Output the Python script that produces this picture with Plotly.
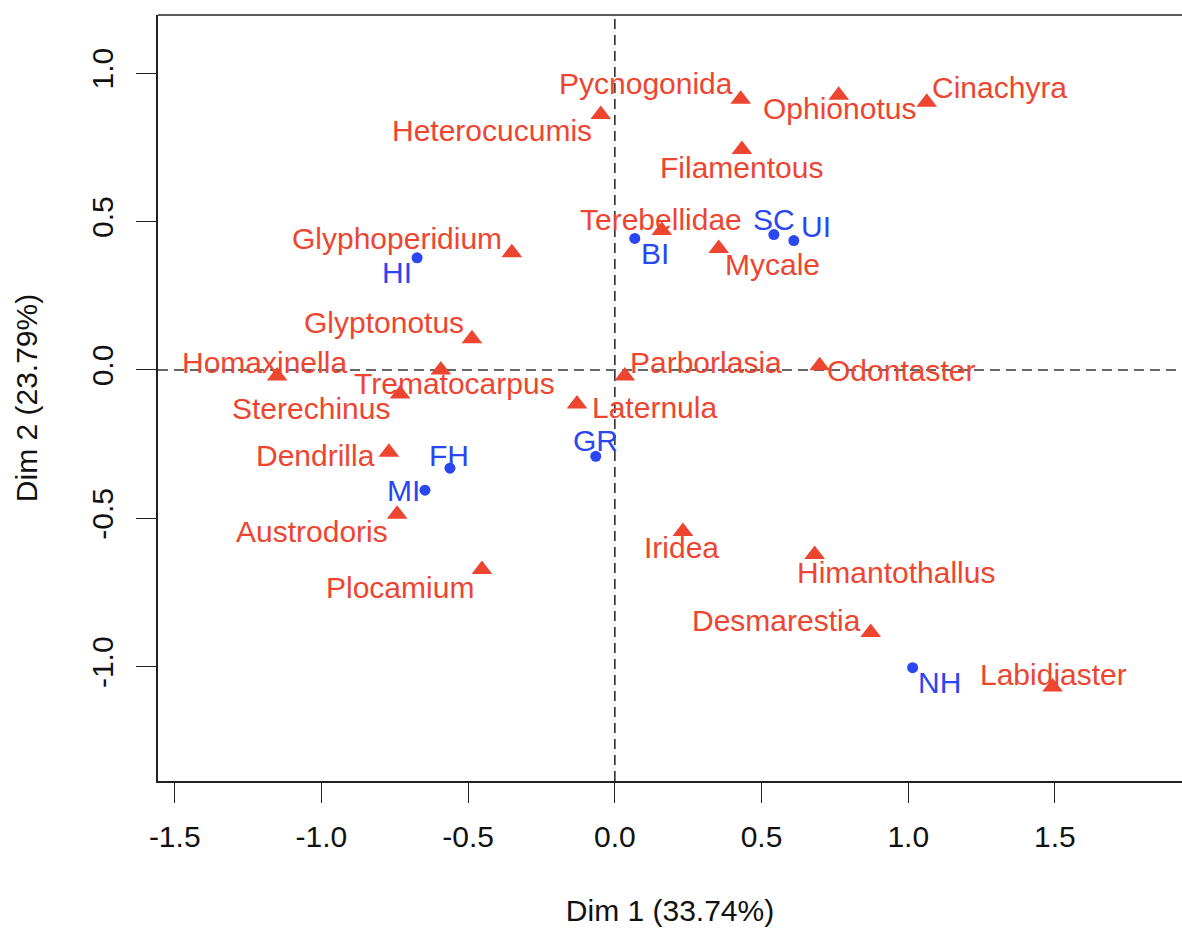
import plotly.graph_objects as go

# ---- data ----
species = ["Pycnogonida", "Ophionotus", "Cinachyra", "Heterocucumis", "Filamentous",
           "Terebellidae", "Mycale", "Glyphoperidium", "Glyptonotus", "Homaxinella",
           "Trematocarpus", "Sterechinus", "Parborlasia", "Odontaster", "Laternula",
           "Dendrilla", "Austrodoris", "Plocamium", "Iridea", "Himantothallus",
           "Desmarestia", "Labidiaster"]
species_dim1 = [0.429, 0.763, 1.063, -0.048, 0.433,
                0.160, 0.354, -0.351, -0.487, -1.151,
                -0.593, -0.732, 0.034, 0.698, -0.129,
                -0.770, -0.742, -0.453, 0.232, 0.681,
                0.872, 1.492]
species_dim2 = [0.912, 0.926, 0.902, 0.861, 0.743,
                0.470, 0.409, 0.395, 0.105, -0.020,
                0.000, -0.081, -0.020, 0.014, -0.115,
                -0.277, -0.486, -0.672, -0.544, -0.622,
                -0.885, -1.068]

sites = ["HI", "BI", "SC", "UI", "FH", "MI", "GR", "NH"]
sites_dim1 = [-0.674, 0.068, 0.542, 0.610, -0.562, -0.647, -0.065, 1.015]
sites_dim2 = [0.378, 0.443, 0.456, 0.436, -0.331, -0.405, -0.291, -1.003]

x_ticks = [-1.5, -1.0, -0.5, 0.0, 0.5, 1.0, 1.5]
y_ticks = [-1.0, -0.5, 0.0, 0.5, 1.0]
x_title = "Dim 1 (33.74%)"
y_title = "Dim 2 (23.79%)"

# ---- label offsets in pixels (dx right, dy up) ----
species_offsets = {
    "Pycnogonida": (-95, 16), "Ophionotus": (1, -13), "Cinachyra": (73, 15),
    "Heterocucumis": (-109, -16), "Filamentous": (0, -18), "Terebellidae": (-1, 11),
    "Mycale": (54, -16), "Glyphoperidium": (-115, 14), "Glyptonotus": (-88, 16),
    "Homaxinella": (-13, 13), "Trematocarpus": (14, -14), "Sterechinus": (-89, -15),
    "Parborlasia": (81, 13), "Odontaster": (81, -5), "Laternula": (78, -3),
    "Dendrilla": (-73, -3), "Austrodoris": (-85, -17), "Plocamium": (-82, -18),
    "Iridea": (-1, -16), "Himantothallus": (81, -18), "Desmarestia": (-94, 12),
    "Labidiaster": (1, 12),
}
site_offsets = {
    "HI": (-20, -15), "BI": (20, -15), "SC": (0, 15), "UI": (22, 14),
    "FH": (-1, 13), "MI": (-22, 0), "GR": (0, 16), "NH": (27, -15),
}

RED = "#EE4530"
BLUE = "#2A47F2"
FONT = "Liberation Sans, Arial, Helvetica, sans-serif"
FS = 30

fig = go.Figure()
fig.add_trace(go.Scatter(
    x=species_dim1, y=species_dim2, mode="markers", name="species",
    marker=dict(symbol="triangle-up", size=18, color=RED, line=dict(width=0)),
    hovertext=species, hoverinfo="text",
))
fig.add_trace(go.Scatter(
    x=sites_dim1, y=sites_dim2, mode="markers", name="sites",
    marker=dict(symbol="circle", size=11, color=BLUE, line=dict(width=0)),
    hovertext=sites, hoverinfo="text",
))

annotations = []
for name, xv, yv in zip(species, species_dim1, species_dim2):
    dx, dy = species_offsets[name]
    annotations.append(dict(x=xv, y=yv, xref="x", yref="y", text=name, showarrow=False,
                            xshift=dx, yshift=dy, xanchor="center", yanchor="middle",
                            font=dict(family=FONT, size=FS, color=RED)))
for name, xv, yv in zip(sites, sites_dim1, sites_dim2):
    dx, dy = site_offsets[name]
    annotations.append(dict(x=xv, y=yv, xref="x", yref="y", text=name, showarrow=False,
                            xshift=dx, yshift=dy, xanchor="center", yanchor="middle",
                            font=dict(family=FONT, size=FS, color=BLUE)))

shapes = [
    # dashed reference lines
    dict(type="line", xref="x", yref="paper", x0=0, x1=0, y0=0, y1=1,
         line=dict(color="#333333", width=1.6, dash="10px,6px"), layer="below"),
    dict(type="line", xref="paper", yref="y", x0=0, x1=1, y0=0, y1=0,
         line=dict(color="#333333", width=1.6, dash="10px,6px"), layer="below"),
    # top border of the box
    dict(type="line", xref="paper", yref="paper", x0=0, x1=1, y0=1, y1=1,
         line=dict(color="#222222", width=1.6)),
]

fig.update_layout(
    width=1182, height=930,
    margin=dict(l=158, r=0, t=15, b=149),
    paper_bgcolor="white", plot_bgcolor="white",
    showlegend=False,
    font=dict(family=FONT, size=FS, color="black"),
    annotations=annotations, shapes=shapes,
    xaxis=dict(range=[-1.557, 1.933], tickvals=x_ticks,
               ticktext=[f"{v:.1f}" for v in x_ticks],
               showgrid=False, zeroline=False, showline=True, linecolor="#222222", linewidth=1.6,
               ticks="outside", ticklen=20, tickwidth=1.4, tickcolor="#222222",
               ticklabelstandoff=8,
               tickfont=dict(family=FONT, size=FS, color="#111111"),
               title=dict(text=x_title, standoff=48, font=dict(family=FONT, size=FS, color="#111111"))),
    yaxis=dict(range=[-1.385, 1.196], tickvals=y_ticks,
               ticktext=[f"{v:.1f}" for v in y_ticks], tickangle=-90,
               showgrid=False, zeroline=False, showline=True, linecolor="#222222", linewidth=1.6,
               ticks="outside", ticklen=20, tickwidth=1.4, tickcolor="#222222",
               ticklabelstandoff=11,
               tickfont=dict(family=FONT, size=FS, color="#111111"),
               title=dict(text=y_title, standoff=40, font=dict(family=FONT, size=FS, color="#111111"))),
)

fig.write_html("out.html", config={"displayModeBar": False},
               post_script="document.body.style.margin='0';document.body.style.overflow='hidden';")
